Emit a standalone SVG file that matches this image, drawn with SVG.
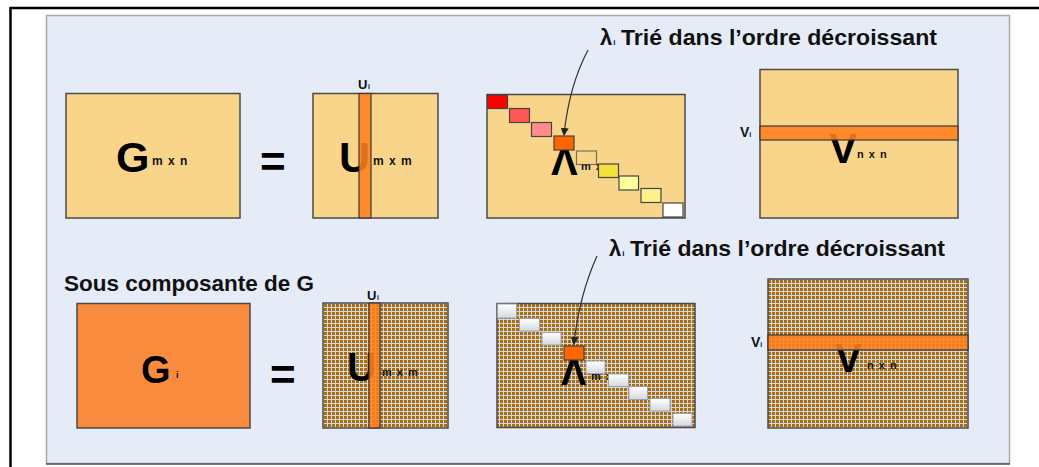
<svg xmlns="http://www.w3.org/2000/svg" width="1039" height="467" viewBox="0 0 1039 467">
<style>
.box{stroke:#4a4a4a;stroke-width:1.5}
.beige{fill:#F8D58B}
.grid{fill:url(#grid)}
.col{fill:#FF7F1E;fill-opacity:0.88;stroke:#3a3a3a;stroke-width:1.2}
.sq{stroke:#444;stroke-width:1.2}
.wsq{fill:url(#wg);stroke:#9AA4B4;stroke-width:1}
.big{font-family:"Liberation Sans",Arial,sans-serif;font-weight:bold;fill:#000}
.sub{font-family:"Liberation Sans",Arial,sans-serif;font-weight:bold;fill:#111}
.title{font-family:"Liberation Sans",Arial,sans-serif;font-weight:bold;font-size:22px;fill:#111}
.arrow{fill:none;stroke:#333;stroke-width:1.2}
</style>
<defs>
<pattern id="grid" width="4" height="4" patternUnits="userSpaceOnUse">
<rect width="4" height="4" fill="#D4D8E0"/>
<rect width="3" height="3" fill="#A86E10"/>
</pattern>
<linearGradient id="wg" x1="0" y1="0" x2="0" y2="1">
<stop offset="0" stop-color="#FFFFFF"/>
<stop offset="1" stop-color="#D6D8DC"/>
</linearGradient>
<marker id="ah" markerWidth="8" markerHeight="8" refX="7" refY="4" orient="auto" markerUnits="userSpaceOnUse">
<path d="M0,0 L8,4 L0,8 Z" fill="#222"/>
</marker>
</defs>

<!-- frame -->
<line x1="10" y1="8" x2="1039" y2="8" stroke="#000" stroke-width="2.5"/>
<line x1="10.5" y1="7" x2="10.5" y2="467" stroke="#000" stroke-width="2.5"/>
<rect x="46.5" y="15.5" width="963" height="448" fill="#E5ECF7" stroke="#A8A8A8" stroke-width="1.5"/>
<line x1="46" y1="464" x2="1010" y2="464" stroke="#555" stroke-width="1.5"/>

<!-- top row -->
<g id="G-top">
<rect class="box beige" x="66" y="93.5" width="174" height="124.5"/>
<text class="big" x="116" y="172" font-size="43">G</text>
<text class="sub" x="152" y="165" font-size="12" letter-spacing="1">m x n</text>
</g>
<g id="eq-top"><text class="big" x="260" y="177" font-size="44">=</text></g>
<g id="U-top">
<rect class="box beige" x="313" y="93.5" width="125" height="124.5"/>
<text class="big" x="339" y="172" font-size="43">U</text>
<text class="sub" x="373" y="165" font-size="12" letter-spacing="1">m x m</text>
<rect class="col" x="359" y="93.5" width="12" height="124.5"/>
<text class="sub" x="358" y="89" font-size="13">U<tspan font-size="7" dx="0.5">i</tspan></text>
</g>
<g id="Lambda-top">
<rect class="box beige" x="487" y="94.5" width="198" height="123.5"/>
<text class="big" x="551" y="175" font-size="40">Λ</text>
<text class="sub" x="581" y="170" font-size="11" letter-spacing="1">m x n</text>
<rect class="sq" x="487.5" y="95" width="20" height="13.5" fill="#FF0000"/>
<rect class="sq" x="509.5" y="108.5" width="20" height="14" fill="#FF5656"/>
<rect class="sq" x="531.5" y="122.5" width="20" height="14" fill="#FF8C8C"/>
<rect class="sq" x="554" y="136" width="20" height="14" fill="#FF6600"/>
<rect class="sq" x="576.5" y="151" width="20" height="13.5" fill="none" stroke-opacity="0.7"/>
<rect class="sq" x="598.5" y="164" width="20" height="13.5" fill="#F2E23C"/>
<rect class="sq" x="619" y="176" width="19.5" height="14" fill="#FFFF9C"/>
<rect class="sq" x="641" y="188.5" width="20" height="14" fill="#FFF08C"/>
<rect class="sq" x="663" y="203" width="20" height="14" fill="#FFFFFF"/>
</g>
<g id="V-top">
<rect class="box beige" x="760" y="69.5" width="198" height="148.5"/>
<text class="big" x="829" y="163" font-size="42">V</text>
<text class="sub" x="857" y="158" font-size="11" letter-spacing="1">n x n</text>
<rect class="col" x="760" y="126" width="198" height="14"/>
<text class="sub" x="740" y="137" font-size="14">V<tspan font-size="7">i</tspan></text>
</g>
<g id="label-top">
<text class="title" x="600" y="45">λ<tspan font-size="8" dx="1">i</tspan></text>
<text class="title" x="621" y="45" textLength="316" lengthAdjust="spacingAndGlyphs">Trié dans l’ordre décroissant</text>
</g>

<!-- bottom row -->
<g id="sous-label"><text class="title" x="64" y="291" textLength="250" lengthAdjust="spacingAndGlyphs">Sous composante de G</text></g>
<g id="G-bottom">
<rect class="box" x="77" y="303.5" width="173" height="124.5" fill="#F98B3F"/>
<text class="big" x="141" y="383" font-size="38">G</text>
<text class="sub" x="176" y="378" font-size="9">i</text>
</g>
<g id="eq-bottom"><text class="big" x="270" y="390" font-size="44">=</text></g>
<g id="U-bottom">
<rect class="box grid" x="323" y="303" width="125" height="125"/>
<text class="big" x="347" y="381" font-size="40">U</text>
<text class="sub" x="382" y="376" font-size="11" letter-spacing="1">m x m</text>
<rect class="col" x="369" y="303" width="11" height="125"/>
<text class="sub" x="367" y="300" font-size="13">U<tspan font-size="7" dx="0.5">i</tspan></text>
</g>
<g id="Lambda-bottom">
<rect class="box grid" x="497" y="303.5" width="198" height="124"/>
<text class="big" x="561" y="385" font-size="38">Λ</text>
<text class="sub" x="591" y="380" font-size="11" letter-spacing="1">m x n</text>
<rect class="wsq" x="497.5" y="304" width="19" height="14"/>
<rect class="wsq" x="519.5" y="318.5" width="20" height="12.5"/>
<rect class="wsq" x="542" y="332.5" width="19" height="12.5"/>
<rect class="sq" x="564" y="346" width="20" height="14" fill="#FF6600"/>
<rect class="wsq" x="586" y="361" width="19" height="12.5"/>
<rect class="wsq" x="608.5" y="374" width="20" height="12.5"/>
<rect class="wsq" x="629" y="386.5" width="18.5" height="13"/>
<rect class="wsq" x="650" y="398.5" width="20" height="12.5"/>
<rect class="wsq" x="673" y="413.5" width="19" height="12.5"/>
</g>
<g id="V-bottom">
<rect class="box grid" x="768" y="279" width="200" height="149"/>
<text class="big" x="835" y="372" font-size="40">V</text>
<text class="sub" x="867" y="369" font-size="11" letter-spacing="1">n x n</text>
<rect class="col" x="768" y="335" width="200" height="15"/>
<text class="sub" x="751" y="347" font-size="14">V<tspan font-size="7">i</tspan></text>
</g>
<g id="label-bottom">
<text class="title" x="609" y="256">λ<tspan font-size="8" dx="1">i</tspan></text>
<text class="title" x="630" y="256" textLength="315" lengthAdjust="spacingAndGlyphs">Trié dans l’ordre décroissant</text>
</g>

<g id="connectors">
<path class="arrow" d="M588,50 Q569,86 564,135" marker-end="url(#ah)"/>
<path class="arrow" d="M597,256 Q579,296 574,344" marker-end="url(#ah)"/>
</g>
</svg>
